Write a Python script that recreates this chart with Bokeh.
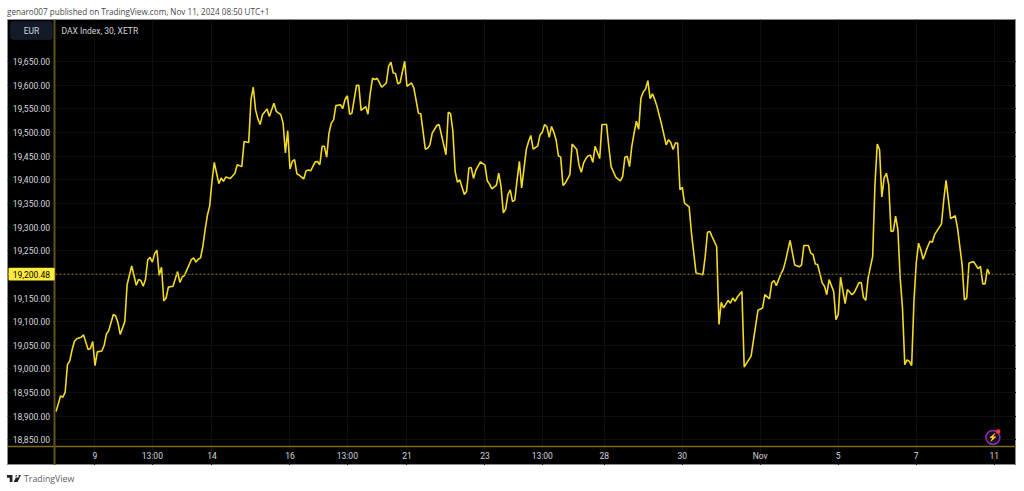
from bokeh.embed import file_html
from bokeh.resources import INLINE
from bokeh.plotting import figure
from bokeh.layouts import column
from bokeh.models import (ColumnDataSource, LinearAxis, FixedTicker, NumeralTickFormatter,
                          Span, Label, BoxAnnotation, Div, Range1d, Grid)

# bar number (30-minute bars) and close price
bars = [0,1,2,3,4,5,6,7,8,9,11,12,14,15,16,17,18,20,21,22,23,25,26,27,28,30,31,33,35,36,37,38,39,40,41,42,43,44,45,46,47,48,49,51,53,54,55,56,59,60,61,62,63,64,65,
        66,67,68,69,70,71,72,73,74,76,78,79,81,82,84,85,86,87,88,89,90,92,93,95,96,98,99,100,101,102,103,104,105,106,108,109,110,111,113,114,115,116,117,118,119,120,121,122,124,125,126,127,128,129,131,132,
        133,135,136,137,138,139,140,142,144,145,146,147,148,149,150,152,153,155,156,158,159,161,162,163,164,166,167,168,170,171,172,173,174,175,176,178,179,180,181,182,183,185,187,188,189,190,192,193,194,195,196,197,198,199,200,201,202,203,205,
        206,207,208,210,211,212,213,214,215,216,217,218,219,220,221,222,224,225,227,228,229,230,231,232,233,234,235,237,238,240,241,242,244,246,247,248,249,250,251,252,253,254,255,256,257,258,259,260,261,262,264,266,267,268,269,270,271,272,273,274,
        276,277,279,282,283,284,285,286,288,289,290,291,293,294,295,296,297,299,300,303,306,308,309,311,312,313,314,316,317,318,320,322,324,325,326,328,329,330,331,332,334,335,336,337,339,
        340,341,342,344,345,347,348,350,351,352,353,354,356,357,358,359,360,361,362,363,364,365,366,367,368,369,370,371,372,373,374,375,376,377,378,380,381,382,383,386,387,388,390,392,393,395,396,397,398,400,402,403,404,405,406,407,408]
closes = [18910,18926,18943,18940,18951,19009,19017,19040,19058,19064,19067,19072,19041,19043,19058,19007,19036,19038,19050,19074,19081,19115,19112,19098,19073,19100,19178,19218,19177,19189,19187,19175,19189,19231,19236,19226,19244,19251,19198,19215,19144,19150,19173,19175,19206,19183,19194,19198,19231,19235,19226,19232,19235,19259,19294,
          19325,19345,19397,19437,19414,19392,19404,19397,19406,19403,19414,19432,19428,19481,19479,19570,19596,19548,19529,19517,19538,19550,19534,19562,19545,19538,19520,19457,19504,19423,19439,19443,19413,19410,19402,19419,19421,19419,19438,19439,19432,19471,19471,19448,19499,19520,19527,19557,19559,19551,19570,19578,19539,19541,19600,19600,
          19547,19555,19539,19584,19615,19612,19615,19596,19605,19640,19649,19626,19625,19603,19606,19651,19598,19605,19594,19541,19540,19465,19467,19474,19499,19515,19517,19496,19453,19543,19540,19503,19418,19395,19400,19369,19376,19425,19426,19403,19420,19438,19431,19398,19391,19381,19389,19414,19386,19330,19338,19369,19379,19354,19357,19400,19439,19383,
          19464,19481,19494,19465,19472,19495,19501,19517,19512,19490,19513,19501,19485,19451,19448,19388,19393,19411,19476,19464,19431,19416,19436,19445,19451,19452,19437,19471,19445,19517,19517,19469,19428,19406,19398,19407,19448,19450,19428,19471,19499,19524,19507,19573,19586,19592,19610,19572,19582,19570,19555,19517,19474,19485,19479,19464,19478,19478,19379,19384,
          19351,19343,19288,19203,19199,19238,19289,19291,19280,19259,19094,19141,19129,19145,19139,19150,19143,19152,19164,19004,19027,19124,19129,19157,19148,19182,19187,19176,19201,19210,19228,19272,19220,19216,19220,19261,19261,19245,19242,19222,19221,19182,19175,19157,19189,
          19164,19104,19115,19194,19138,19168,19157,19162,19182,19183,19151,19145,19192,19238,19390,19476,19464,19364,19404,19414,19390,19291,19292,19323,19294,19192,19129,19009,19019,19016,19007,19143,19224,19266,19252,19232,19259,19270,19268,19284,19307,19358,19399,19318,19324,19298,19220,19146,19150,19224,19227,19212,19217,19180,19180,19211,19200.48]

price_ticks = [18850,18900,18950,19000,19050,19100,19150,19200,19250,19300,19350,19400,19450,19500,19550,19600,19650]
time_ticks = [17,42,68,102,127,153,187,212,239,273,307,341,375,409]
time_labels = ["9","13:00","14","16","13:00","21","23","13:00","28","30","Nov","5","7","11"]
last_price = 19200.48

FONT = "Roboto"
TEXT = "#d1d4dc"

p = figure(width=1009, height=446, min_border=0, tools="", toolbar_location=None,
           output_backend="svg", x_axis_location=None, y_axis_location=None,
           x_range=Range1d(-21.14, 418.7), y_range=Range1d(18795.6, 19739.3),
           background_fill_color="#000000", border_fill_color="#000000",
           outline_line_color="#8c8c8c", margin=(0, 0, 0, 7))
p.center = []

yax = LinearAxis(fixed_location=-0.44, ticker=FixedTicker(ticks=price_ticks),
                 formatter=NumeralTickFormatter(format="0,0.00"),
                 major_tick_line_color=None, minor_tick_line_color=None,
                 major_tick_out=0, major_tick_in=0, major_label_standoff=5,
                 axis_line_color="#5f5220", axis_line_width=2,
                 major_label_text_color=TEXT, major_label_text_font=FONT,
                 major_label_text_font_size="8.5px")
xax = LinearAxis(fixed_location=18836.4, ticker=FixedTicker(ticks=time_ticks),
                 major_label_overrides=dict(zip(time_ticks, time_labels)),
                 major_tick_line_color=None, minor_tick_line_color=None,
                 major_tick_out=0, major_tick_in=0, major_label_standoff=5,
                 axis_line_color="#7d6c12", axis_line_width=1.5,
                 major_label_text_color=TEXT, major_label_text_font=FONT,
                 major_label_text_font_size="8.5px")
p.add_layout(yax, "left")
p.add_layout(xax, "below")

p.add_layout(Grid(dimension=0, ticker=xax.ticker, grid_line_color="#10100a", bounds=(18836.4, 19741)))
p.add_layout(Grid(dimension=1, ticker=yax.ticker, grid_line_color="#10100a", bounds=(-0.44, 418.7)))

p.add_layout(Span(location=last_price, dimension="width", line_color="#7f7320", line_width=1, line_dash="2 2"))

src = ColumnDataSource(dict(bar=bars, close=closes))
p.line("bar", "close", source=src, line_color="#f2da22", line_width=1.6)

# last price tag
p.add_layout(BoxAnnotation(left=-20.7, right=-0.6, bottom=19187, top=19214, fill_color="#ffeb3b", fill_alpha=1,
                           line_color=None, border_radius=1, level="overlay"))
p.add_layout(Label(x=-10.7, y=last_price, text="19,200.48", text_color="#000000", text_font=FONT,
                   text_font_size="8.5px", text_align="center", text_baseline="middle", level="overlay"))

# currency chip and chart title
p.add_layout(BoxAnnotation(left=-19.9, right=-1.5, bottom=19697, top=19735, fill_color="#131a2a", fill_alpha=1,
                           line_color="#2a2e39", border_radius=3, level="overlay"))
p.add_layout(Label(x=-10.7, y=19716, text="EUR", text_color=TEXT, text_font=FONT, text_font_size="8.5px",
                   text_align="center", text_baseline="middle", level="overlay"))
p.add_layout(Label(x=2.4, y=19716, text="DAX Index, 30, XETR", text_color=TEXT, text_font=FONT,
                   text_font_size="8.5px", text_align="left", text_baseline="middle"))

# bolt badge
p.scatter([408.4], [18855], marker="circle", size=14, fill_color="#1c0f24", line_color="#8e2fb0", line_width=1.5)
p.text([408.4], [18855], text=["\u26a1"], text_color="#8e2fb0", text_font_size="8px",
       text_align="center", text_baseline="middle")
p.scatter([410.7], [18867.7], marker="circle", size=4.5, fill_color="#f23645", line_color=None)

head = Div(text="genaro007 published on TradingView.com, Nov 11, 2024 08:50 UTC+1",
           width=1009, height=14, margin=(5, 0, 0, 7),
           styles={"font-family": "Open Sans", "font-size": "8.13px", "color": "#4a4a4a",
                   "line-height": "14px", "white-space": "nowrap"})
logo = Div(text='<svg width="14" height="8" viewBox="0 0 36 20" style="vertical-align:-0.5px;margin-right:3px">'
                '<path fill="#1e222d" d="M0 0H14V18H7V7H0ZM23 5A4 4 0 1 0 23 0A4 4 0 0 0 23 5ZM26 0H36L27 18H17Z"/></svg>'
                'TradingView',
           width=1009, height=18, margin=(0, 0, 0, 7),
           styles={"font-family": "Open Sans", "font-size": "8.8px", "color": "#5d606b",
                   "line-height": "12px", "padding-top": "8px", "white-space": "nowrap"})

root = column(head, p, logo, spacing=0)
open("out.html", "w").write(file_html(root, INLINE))
